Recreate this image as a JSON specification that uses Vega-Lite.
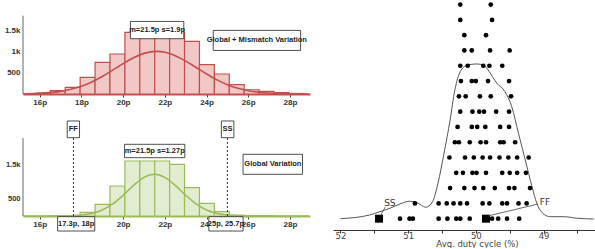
{
  "$schema": "https://vega.github.io/schema/vega-lite/v6.json",
  "padding": {"left": 4, "top": 0, "right": 0, "bottom": 0},
  "background": "white",
  "config": {"view": {"stroke": null}, "axis": {"grid": false, "labelOverlap": false}, "axisY": {"labelOverlap": false}},
  "datasets": {
    "histTop": [
      {"x": 15.795, "x2": 16.51, "y": 20},
      {"x": 16.51, "x2": 17.225, "y": 77},
      {"x": 17.225, "x2": 17.94, "y": 155},
      {"x": 17.94, "x2": 18.655, "y": 390},
      {"x": 18.655, "x2": 19.37, "y": 742},
      {"x": 19.37, "x2": 20.085, "y": 939},
      {"x": 20.085, "x2": 20.8, "y": 1446},
      {"x": 20.8, "x2": 21.515, "y": 1570},
      {"x": 21.515, "x2": 22.23, "y": 1560},
      {"x": 22.23, "x2": 22.945, "y": 1440},
      {"x": 22.945, "x2": 23.66, "y": 1235},
      {"x": 23.66, "x2": 24.375, "y": 688},
      {"x": 24.375, "x2": 25.09, "y": 470},
      {"x": 25.09, "x2": 25.805, "y": 218},
      {"x": 25.805, "x2": 26.52, "y": 100},
      {"x": 26.52, "x2": 27.235, "y": 60},
      {"x": 27.235, "x2": 27.95, "y": 30},
      {"x": 27.95, "x2": 28.665, "y": 12}
    ],
    "histBot": [
      {"x": 16.51, "x2": 17.225, "y": 3},
      {"x": 17.225, "x2": 17.94, "y": 12},
      {"x": 17.94, "x2": 18.655, "y": 107},
      {"x": 18.655, "x2": 19.37, "y": 338},
      {"x": 19.37, "x2": 20.085, "y": 867},
      {"x": 20.085, "x2": 20.8, "y": 1590},
      {"x": 20.8, "x2": 21.515, "y": 1590},
      {"x": 21.515, "x2": 22.23, "y": 1590},
      {"x": 22.23, "x2": 22.945, "y": 1494},
      {"x": 22.945, "x2": 23.66, "y": 818},
      {"x": 23.66, "x2": 24.375, "y": 367},
      {"x": 24.375, "x2": 25.09, "y": 124},
      {"x": 25.09, "x2": 25.805, "y": 25},
      {"x": 25.805, "x2": 26.52, "y": 6},
      {"x": 26.52, "x2": 27.235, "y": 2}
    ],
    "curveTop": [
      {"x": 15.2, "y": 5}, {"x": 16, "y": 16}, {"x": 16.5, "y": 33}, {"x": 17, "y": 62},
      {"x": 17.5, "y": 110}, {"x": 18, "y": 182}, {"x": 18.5, "y": 283}, {"x": 19, "y": 411},
      {"x": 19.5, "y": 560}, {"x": 20, "y": 714}, {"x": 20.5, "y": 853}, {"x": 21, "y": 954},
      {"x": 21.6, "y": 1000}, {"x": 22, "y": 979}, {"x": 22.5, "y": 899}, {"x": 23, "y": 773},
      {"x": 23.5, "y": 622}, {"x": 24, "y": 469}, {"x": 24.5, "y": 331}, {"x": 25, "y": 219},
      {"x": 25.5, "y": 135}, {"x": 26, "y": 78}, {"x": 26.5, "y": 43}, {"x": 27, "y": 22},
      {"x": 27.5, "y": 10}, {"x": 28, "y": 5}, {"x": 28.9, "y": 1}
    ],
    "curveBot": [
      {"x": 15.2, "y": 0}, {"x": 16.5, "y": 0}, {"x": 17, "y": 2}, {"x": 17.5, "y": 8},
      {"x": 18, "y": 27}, {"x": 18.5, "y": 74}, {"x": 19, "y": 174}, {"x": 19.5, "y": 348},
      {"x": 20, "y": 600}, {"x": 20.5, "y": 883}, {"x": 21, "y": 1115}, {"x": 21.5, "y": 1205},
      {"x": 22, "y": 1115}, {"x": 22.5, "y": 883}, {"x": 23, "y": 600}, {"x": 23.5, "y": 348},
      {"x": 24, "y": 174}, {"x": 24.5, "y": 74}, {"x": 25, "y": 27}, {"x": 25.5, "y": 8},
      {"x": 26, "y": 2}, {"x": 26.5, "y": 0}, {"x": 28.9, "y": 0}
    ],
    "boxTop": [
      {"x": 20.35, "x2": 22.91, "y": 1298, "y2": 1704, "tx": 21.63, "ty": 1500, "text": "m=21.5p s=1.9p"},
      {"x": 24.32, "x2": 28.51, "y": 1023, "y2": 1493, "tx": 26.41, "ty": 1258, "text": "Global + Mismatch Variation"}
    ],
    "boxBot": [
      {"x": 20.07, "x2": 22.96, "y": 1685, "y2": 2072, "tx": 21.515, "ty": 1879, "text": "m=21.5p s=1.27p"},
      {"x": 25.75, "x2": 28.6, "y": 1205, "y2": 1783, "tx": 27.18, "ty": 1494, "text": "Global Variation"},
      {"x": 17.32, "x2": 17.91, "y": 2263, "y2": 2746, "tx": 17.615, "ty": 2504, "text": "FF"},
      {"x": 24.71, "x2": 25.31, "y": 2263, "y2": 2746, "tx": 25.01, "ty": 2504, "text": "SS"},
      {"x": 16.86, "x2": 18.64, "y": -434, "y2": -20, "tx": 17.75, "ty": -227, "text": "17.3p, 18p"},
      {"x": 24.11, "x2": 25.75, "y": -434, "y2": -20, "tx": 24.93, "ty": -227, "text": "25p, 25.7p"}
    ],
    "axisTop": [{"x": 15.2, "y": 0, "y2": 1838}],
    "axisBot": [{"x": 15.2, "y": 0, "y2": 2254}],
    "vlines": [{"x": 17.62, "y": 0, "y2": 2263}, {"x": 25.0, "y": 0, "y2": 2263}],
    "dots": [
      {"v": 50.23, "r": 15}, {"v": 49.78, "r": 15},
      {"v": 50.23, "r": 14}, {"v": 49.76, "r": 14},
      {"v": 50.17, "r": 13}, {"v": 49.85, "r": 13},
      {"v": 50.17, "r": 12}, {"v": 50.06, "r": 12}, {"v": 49.79, "r": 12}, {"v": 49.5, "r": 12},
      {"v": 50.23, "r": 11}, {"v": 50.12, "r": 11}, {"v": 49.89, "r": 11}, {"v": 49.8, "r": 11}, {"v": 49.61, "r": 11},
      {"v": 50.22, "r": 10}, {"v": 50.06, "r": 10}, {"v": 50.0, "r": 10}, {"v": 49.82, "r": 10}, {"v": 49.51, "r": 10},
      {"v": 50.25, "r": 9}, {"v": 50.15, "r": 9}, {"v": 49.94, "r": 9}, {"v": 49.78, "r": 9}, {"v": 49.48, "r": 9},
      {"v": 50.23, "r": 8}, {"v": 50.05, "r": 8}, {"v": 49.95, "r": 8}, {"v": 49.88, "r": 8}, {"v": 49.7, "r": 8}, {"v": 49.51, "r": 8},
      {"v": 50.27, "r": 7}, {"v": 50.06, "r": 7}, {"v": 49.98, "r": 7}, {"v": 49.86, "r": 7}, {"v": 49.64, "r": 7}, {"v": 49.51, "r": 7},
      {"v": 50.31, "r": 6}, {"v": 50.25, "r": 6}, {"v": 50.09, "r": 6}, {"v": 49.93, "r": 6}, {"v": 49.85, "r": 6}, {"v": 49.64, "r": 6}, {"v": 49.59, "r": 6}, {"v": 49.42, "r": 6},
      {"v": 50.39, "r": 5}, {"v": 50.16, "r": 5}, {"v": 50.03, "r": 5}, {"v": 49.9, "r": 5}, {"v": 49.79, "r": 5}, {"v": 49.65, "r": 5}, {"v": 49.52, "r": 5}, {"v": 49.39, "r": 5}, {"v": 49.22, "r": 5},
      {"v": 50.29, "r": 4}, {"v": 50.19, "r": 4}, {"v": 50.05, "r": 4}, {"v": 49.99, "r": 4}, {"v": 49.85, "r": 4}, {"v": 49.61, "r": 4}, {"v": 49.5, "r": 4}, {"v": 49.39, "r": 4}, {"v": 49.26, "r": 4},
      {"v": 50.38, "r": 3}, {"v": 50.17, "r": 3}, {"v": 50.02, "r": 3}, {"v": 49.89, "r": 3}, {"v": 49.72, "r": 3}, {"v": 49.51, "r": 3}, {"v": 49.43, "r": 3}, {"v": 49.2, "r": 3},
      {"v": 50.9, "r": 2}, {"v": 50.55, "r": 2}, {"v": 50.43, "r": 2}, {"v": 50.33, "r": 2}, {"v": 50.23, "r": 2}, {"v": 50.13, "r": 2}, {"v": 49.9, "r": 2}, {"v": 49.8, "r": 2}, {"v": 49.61, "r": 2}, {"v": 49.54, "r": 2}, {"v": 49.37, "r": 2}, {"v": 49.25, "r": 2},
      {"v": 51.12, "r": 1}, {"v": 50.98, "r": 1}, {"v": 50.93, "r": 1}, {"v": 50.55, "r": 1}, {"v": 50.42, "r": 1}, {"v": 50.29, "r": 1}, {"v": 50.23, "r": 1}, {"v": 50.09, "r": 1}, {"v": 49.76, "r": 1}, {"v": 49.67, "r": 1}, {"v": 49.54, "r": 1}, {"v": 49.36, "r": 1}
    ],
    "density": [
      {"v": 52.0, "r": 1.0}, {"v": 51.57, "r": 1.24}, {"v": 51.43, "r": 1.44}, {"v": 51.27, "r": 1.68},
      {"v": 51.12, "r": 1.96}, {"v": 50.98, "r": 2.14}, {"v": 50.87, "r": 2.05}, {"v": 50.74, "r": 1.75},
      {"v": 50.64, "r": 2.11}, {"v": 50.56, "r": 3.31}, {"v": 50.47, "r": 5.28}, {"v": 50.38, "r": 7.46},
      {"v": 50.31, "r": 9.42}, {"v": 50.23, "r": 10.61}, {"v": 50.13, "r": 11.03}, {"v": 49.99, "r": 11.12},
      {"v": 49.89, "r": 11.05}, {"v": 49.82, "r": 10.73}, {"v": 49.69, "r": 9.86}, {"v": 49.57, "r": 9.31},
      {"v": 49.47, "r": 8.33}, {"v": 49.37, "r": 6.58}, {"v": 49.27, "r": 4.84}, {"v": 49.17, "r": 3.09},
      {"v": 49.1, "r": 2.01}, {"v": 49.02, "r": 1.39}, {"v": 48.9, "r": 1.13}, {"v": 48.7, "r": 1.13},
      {"v": 48.51, "r": 1.03}, {"v": 48.26, "r": 0.98}
    ],
    "markers": [{"v": 51.43, "r": 1, "label": "SS"}, {"v": 49.85, "r": 1, "label": "FF"}],
    "leaders": [
      {"v": 51.41, "v2": 51.34, "r": 1.18, "r2": 1.75},
      {"v": 49.82, "v2": 49.08, "r": 1.18, "r2": 1.96}
    ],
    "tags": [{"v": 51.27, "r": 2.05, "label": "SS"}, {"v": 48.98, "r": 2.09, "label": "FF"}]
  },
  "spacing": 21,
  "bounds": "full",
  "hconcat": [
    {
      "spacing": 44,
      "bounds": "flush",
      "vconcat": [
        {
          "width": 287,
          "height": 94,
          "encoding": {
            "x": {
              "field": "x", "type": "quantitative", "title": null,
              "scale": {"domain": [15.2, 28.96], "nice": false, "zero": false},
              "axis": {
                "values": [16, 18, 20, 22, 24, 26, 28], "labelExpr": "datum.value + 'p'",
                "domainColor": "#c0504d", "domainWidth": 2, "tickColor": "#444", "tickSize": 3,
                "labelFont": "Liberation Sans Narrow, Liberation Sans", "labelFontSize": 8, "labelFontWeight": "bold",
                "labelColor": "#333", "labelPadding": 1, "labelOverlap": false, "title": null
              }
            }
          },
          "layer": [
            {
              "data": {"name": "histTop"},
              "mark": {"type": "rect", "fill": "#f2c8c7", "stroke": "#c0504d", "strokeWidth": 1.2},
              "encoding": {
                "x2": {"field": "x2"},
                "y": {
                  "field": "y", "type": "quantitative", "title": null,
                  "scale": {"domain": [0, 2207], "nice": false},
                  "axis": {
                    "values": [500, 1000, 1500],
                    "labelExpr": "datum.value == 1500 ? '1.5k' : datum.value == 1000 ? '1k' : '500'",
                    "domain": false, "ticks": false, "labelFont": "Liberation Sans", "labelFontSize": 8,
                    "labelFontWeight": "bold", "labelColor": "#333", "labelPadding": 3, "labelOverlap": false, "title": null
                  }
                },
                "y2": {"datum": 0}
              }
            },
            {
              "data": {"name": "curveTop"},
              "mark": {"type": "line", "color": "#c0504d", "strokeWidth": 1.6, "interpolate": "monotone"},
              "encoding": {"y": {"field": "y", "type": "quantitative", "title": null}}
            },
            {
              "data": {"name": "axisTop"},
              "mark": {"type": "rule", "color": "#666", "strokeWidth": 1},
              "encoding": {"y": {"field": "y", "type": "quantitative", "title": null}, "y2": {"field": "y2"}}
            },
            {
              "data": {"name": "boxTop"},
              "mark": {"type": "rect", "fill": "white", "stroke": "#222", "strokeWidth": 0.8},
              "encoding": {"x2": {"field": "x2"}, "y": {"field": "y", "type": "quantitative", "title": null}, "y2": {"field": "y2"}}
            },
            {
              "data": {"name": "boxTop"},
              "mark": {"type": "text", "font": "Liberation Sans Narrow, Liberation Sans", "fontSize": 7.5, "fontWeight": "bold", "color": "#222"},
              "encoding": {
                "x": {"field": "tx", "type": "quantitative", "title": null},
                "y": {"field": "ty", "type": "quantitative", "title": null},
                "text": {"field": "text"}
              }
            }
          ]
        },
        {
          "width": 287,
          "height": 78,
          "encoding": {
            "x": {
              "field": "x", "type": "quantitative", "title": null,
              "scale": {"domain": [15.2, 28.96], "nice": false, "zero": false},
              "axis": {
                "values": [16, 18, 20, 22, 24, 26, 28], "labelExpr": "datum.value + 'p'",
                "domainColor": "#9bbb59", "domainWidth": 2, "tickColor": "#444", "tickSize": 3,
                "labelFont": "Liberation Sans Narrow, Liberation Sans", "labelFontSize": 8, "labelFontWeight": "bold",
                "labelColor": "#333", "labelPadding": 1, "labelOverlap": false, "title": null
              }
            }
          },
          "layer": [
            {
              "data": {"name": "histBot"},
              "mark": {"type": "rect", "fill": "#e2ecd0", "stroke": "#9bbb59", "strokeWidth": 1.2},
              "encoding": {
                "x2": {"field": "x2"},
                "y": {
                  "field": "y", "type": "quantitative", "title": null,
                  "scale": {"domain": [0, 2254], "nice": false},
                  "axis": {
                    "values": [500, 1000, 1500],
                    "labelExpr": "datum.value == 1500 ? '1.5k' : datum.value == 1000 ? '1k' : '500'",
                    "domain": false, "ticks": false, "labelFont": "Liberation Sans", "labelFontSize": 7.5,
                    "labelFontWeight": "bold", "labelColor": "#333", "labelPadding": 3,
                    "labelOverlap": false, "labelSeparation": -12, "zindex": 2, "title": null
                  }
                },
                "y2": {"datum": 0}
              }
            },
            {
              "data": {"name": "curveBot"},
              "mark": {"type": "line", "color": "#9bbb59", "strokeWidth": 1.6, "interpolate": "monotone"},
              "encoding": {"y": {"field": "y", "type": "quantitative", "title": null}}
            },
            {
              "data": {"name": "axisBot"},
              "mark": {"type": "rule", "color": "#666", "strokeWidth": 1},
              "encoding": {"y": {"field": "y", "type": "quantitative", "title": null}, "y2": {"field": "y2"}}
            },
            {
              "data": {"name": "vlines"},
              "mark": {"type": "rule", "color": "#333", "strokeWidth": 1, "strokeDash": [2, 2]},
              "encoding": {"y": {"field": "y", "type": "quantitative", "title": null}, "y2": {"field": "y2"}}
            },
            {
              "data": {"name": "boxBot"},
              "mark": {"type": "rect", "fill": "white", "stroke": "#222", "strokeWidth": 0.8},
              "encoding": {"x2": {"field": "x2"}, "y": {"field": "y", "type": "quantitative", "title": null}, "y2": {"field": "y2"}}
            },
            {
              "data": {"name": "boxBot"},
              "mark": {"type": "text", "font": "Liberation Sans Narrow, Liberation Sans", "fontSize": 7.5, "fontWeight": "bold", "color": "#222"},
              "encoding": {
                "x": {"field": "tx", "type": "quantitative", "title": null},
                "y": {"field": "ty", "type": "quantitative", "title": null},
                "text": {"field": "text"}
              }
            }
          ]
        }
      ]
    },
    {
      "width": 262,
      "height": 230,
      "encoding": {
        "x": {
          "field": "v", "type": "quantitative", "title": "Avg. duty cycle (%)",
          "scale": {"domain": [48.24, 52.11], "reverse": true, "nice": false, "zero": false},
          "axis": {
            "values": [48.5, 49, 49.5, 50, 50.5, 51, 51.5, 52],
            "labelExpr": "datum.value % 1 === 0 ? format(datum.value, 'd') : ''",
            "domainColor": "#333", "tickColor": "#333", "tickSize": 3,
            "labelFont": "DejaVu Sans", "labelFontSize": 8.5, "labelColor": "#444", "labelPadding": -2,
            "labelOverlap": false,
            "titleFont": "DejaVu Sans", "titleFontSize": 8.5, "titleFontWeight": "normal", "titleColor": "#444",
            "titlePadding": 0, "titleX": 144
          }
        }
      },
      "layer": [
        {
          "data": {"name": "density"},
          "mark": {"type": "line", "color": "#555", "strokeWidth": 1, "interpolate": "monotone"},
          "encoding": {"y": {"field": "r", "type": "quantitative", "title": null, "scale": {"domain": [0.26, 15.3], "nice": false, "zero": false}, "axis": null}}
        },
        {
          "data": {"name": "dots"},
          "mark": {"type": "circle", "color": "black", "size": 22, "opacity": 1},
          "encoding": {"y": {"field": "r", "type": "quantitative", "title": null}}
        },
        {
          "data": {"name": "markers"},
          "mark": {"type": "square", "color": "black", "size": 64, "opacity": 1},
          "encoding": {"y": {"field": "r", "type": "quantitative", "title": null}}
        },
        {
          "data": {"name": "leaders"},
          "mark": {"type": "rule", "color": "#444", "strokeWidth": 0.8},
          "encoding": {"x2": {"field": "v2"}, "y": {"field": "r", "type": "quantitative", "title": null}, "y2": {"field": "r2"}}
        },
        {
          "data": {"name": "tags"},
          "mark": {"type": "text", "font": "DejaVu Sans", "fontSize": 9, "color": "#333"},
          "encoding": {"y": {"field": "r", "type": "quantitative", "title": null}, "text": {"field": "label"}}
        }
      ]
    }
  ]
}
